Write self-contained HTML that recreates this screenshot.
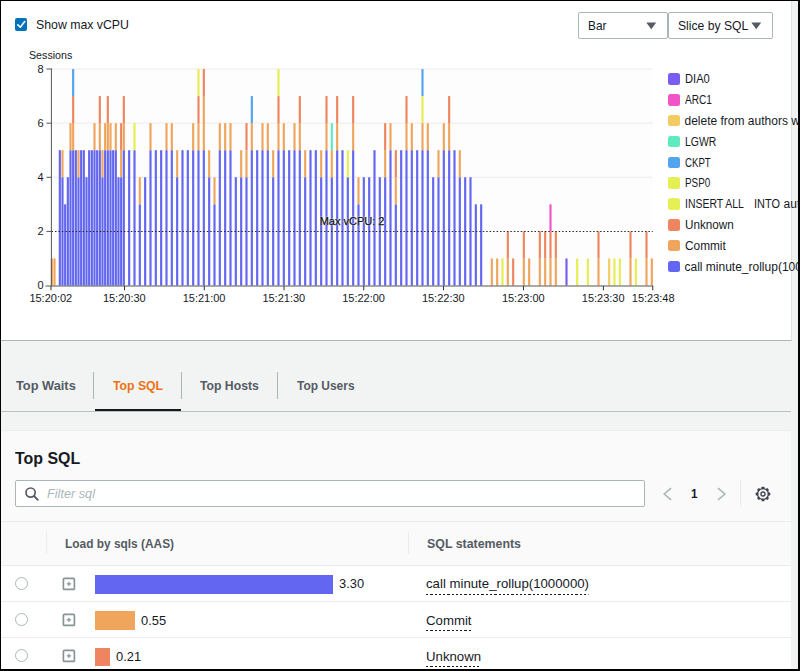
<!DOCTYPE html>
<html><head><meta charset="utf-8"><title>Top SQL</title>
<style>
*{box-sizing:border-box}
html,body{margin:0;padding:0}
body{width:800px;height:671px;overflow:hidden;background:#000;font-family:"Liberation Sans",sans-serif;color:#16191f;position:relative}
#page{position:absolute;left:1px;top:1px;width:797.1px;height:667.5px;background:#f2f3f3;overflow:hidden}
#strip{position:absolute;left:790px;top:0;width:8px;height:668px;background:#f1f2f2}
#top{position:absolute;left:0;top:0;width:790.6px;height:339.6px;background:#fff;border-bottom:1px solid #aab7b8;border-right:1px solid #dfe3e3}
.abs{position:absolute;white-space:nowrap}
.sx{display:inline-block;transform-origin:0 50%;white-space:nowrap}
.xl{position:absolute;top:289.8px;width:60px;text-align:center;font-size:11px;line-height:14px;color:#16191f}
.yl{position:absolute;left:22px;width:20.5px;text-align:right;font-size:11px;line-height:14px}
.sw{position:absolute;left:667px;width:11.6px;height:11.6px;border-radius:2.5px}
.lt{position:absolute;left:683.5px;font-size:12px;line-height:16px;white-space:nowrap;color:#16191f}
.lt span{display:inline-block;transform-origin:0 50%}
.dd{position:absolute;top:11px;height:26.5px;border:1px solid #aab7b8;border-radius:2px;background:#fff}
.tab{position:absolute;top:377px;font-size:13px;font-weight:bold;line-height:16px;color:#545b64;white-space:nowrap}
.tsep{position:absolute;top:370.5px;width:1px;height:27px;background:#aab7b8}
.row{position:absolute;left:0;width:790px;height:36px;background:#fff;border-top:1px solid #eaeded}
.radio{position:absolute;left:14.2px;width:13px;height:13px;border:1.3px solid #aab7b8;border-radius:50%;background:#fff}
.plus{position:absolute;left:61.5px;width:12px;height:12px;border:1.5px solid #879596;border-radius:1px;background:#fff}
.plus:before{content:"";position:absolute;left:2px;top:3.75px;width:5px;height:1.5px;background:#879596}
.plus:after{content:"";position:absolute;left:3.75px;top:2px;width:1.5px;height:5px;background:#879596}
.val{position:absolute;font-size:13px;line-height:16px}
.sql{position:absolute;left:425px;font-size:13px;line-height:16px;white-space:nowrap}
.sql span{display:inline-block;transform-origin:0 50%;padding-bottom:2.6px;background:repeating-linear-gradient(90deg,#16191f 0 2.2px,transparent 2.2px 4.2px) left bottom/100% 1.2px no-repeat}
</style></head><body>
<div id="page">
<div id="strip"></div>
<div id="top">
  <!-- checkbox -->
  <div class="abs" style="left:13.6px;top:17px;width:12.4px;height:12.5px;background:#0073bb;border-radius:2px"></div>
  <svg class="abs" style="left:13.5px;top:17px" width="12.5" height="12.5" viewBox="0 0 12.5 12.5"><path d="M2.8 6.9 L5.3 9.2 L9.7 3.5" fill="none" stroke="#fff" stroke-width="1.6" stroke-linecap="round" stroke-linejoin="round"/></svg>
  <div class="abs" style="left:35.2px;top:15.6px;font-size:13px;line-height:16px"><span class="sx" style="transform:scaleX(0.946)">Show max vCPU</span></div>
  <!-- dropdowns -->
  <div class="dd" style="left:577px;width:90px"></div>
  <div class="dd" style="left:667px;width:104.7px"></div>
  <div class="abs" style="left:587px;top:16.5px;font-size:13px;line-height:16px"><span class="sx" style="transform:scaleX(0.91)">Bar</span></div>
  <div class="abs" style="left:677px;top:16.5px;font-size:13px;line-height:16px"><span class="sx" style="transform:scaleX(0.935)">Slice by SQL</span></div>
  <svg class="abs" style="left:644.5px;top:20.5px" width="11" height="8"><path d="M0.3 0.5 L10.2 0.5 L5.25 7.3 Z" fill="#545b64"/></svg>
  <svg class="abs" style="left:749.5px;top:20.5px" width="11" height="8"><path d="M0.3 0.5 L10.2 0.5 L5.25 7.3 Z" fill="#545b64"/></svg>
  <!-- chart -->
  <div class="abs" style="left:28px;top:47px;font-size:11px;line-height:14px"><span class="sx" style="transform:scaleX(0.97)">Sessions</span></div>
  <div class="yl" style="top:60.8px">8</div>
  <div class="yl" style="top:114.9px">6</div>
  <div class="yl" style="top:169.1px">4</div>
  <div class="yl" style="top:223.2px">2</div>
  <div class="yl" style="top:277.3px">0</div>
  <svg class="abs" style="left:-1px;top:-1px" width="800" height="340" viewBox="0 0 800 340">
    <rect x="51.5" y="69" width="601" height="216.5" fill="#fdfdfd"/>
    <g stroke="#ececec" stroke-width="1">
      <line x1="51.5" y1="69" x2="652.5" y2="69"/>
      <line x1="51.5" y1="123.2" x2="652.5" y2="123.2"/>
      <line x1="51.5" y1="177.3" x2="652.5" y2="177.3"/>
    </g>
    <rect x="50.75" y="258.44" width="2.15" height="27.06" fill="#f0a55c"/>
<rect x="53.42" y="258.44" width="2.15" height="27.06" fill="#f0a55c"/>
<rect x="58.75" y="150.20" width="2.15" height="135.30" fill="#6366f1"/>
<rect x="61.42" y="177.26" width="2.15" height="108.24" fill="#6366f1"/>
<rect x="61.42" y="150.20" width="2.15" height="27.06" fill="#f0a55c"/>
<rect x="64.08" y="204.32" width="2.15" height="81.18" fill="#6366f1"/>
<rect x="66.75" y="177.26" width="2.15" height="108.24" fill="#6366f1"/>
<rect x="69.42" y="150.20" width="2.15" height="135.30" fill="#6366f1"/>
<rect x="69.42" y="123.14" width="2.15" height="27.06" fill="#f0a55c"/>
<rect x="72.08" y="150.20" width="2.15" height="135.30" fill="#6366f1"/>
<rect x="72.08" y="123.14" width="2.15" height="27.06" fill="#f0a55c"/>
<rect x="72.08" y="96.08" width="2.15" height="27.06" fill="#ef8560"/>
<rect x="72.08" y="69.02" width="2.15" height="27.06" fill="#52a4ef"/>
<rect x="74.75" y="150.20" width="2.15" height="135.30" fill="#6366f1"/>
<rect x="77.42" y="177.26" width="2.15" height="108.24" fill="#6366f1"/>
<rect x="77.42" y="150.20" width="2.15" height="27.06" fill="#f0a55c"/>
<rect x="80.08" y="150.20" width="2.15" height="135.30" fill="#6366f1"/>
<rect x="82.75" y="150.20" width="2.15" height="135.30" fill="#6366f1"/>
<rect x="85.42" y="177.26" width="2.15" height="108.24" fill="#6366f1"/>
<rect x="88.08" y="150.20" width="2.15" height="135.30" fill="#6366f1"/>
<rect x="90.75" y="150.20" width="2.15" height="135.30" fill="#6366f1"/>
<rect x="93.42" y="150.20" width="2.15" height="135.30" fill="#6366f1"/>
<rect x="93.42" y="123.14" width="2.15" height="27.06" fill="#f0a55c"/>
<rect x="96.08" y="150.20" width="2.15" height="135.30" fill="#6366f1"/>
<rect x="98.75" y="150.20" width="2.15" height="135.30" fill="#6366f1"/>
<rect x="98.75" y="123.14" width="2.15" height="27.06" fill="#f0a55c"/>
<rect x="98.75" y="96.08" width="2.15" height="27.06" fill="#ef8560"/>
<rect x="101.42" y="177.26" width="2.15" height="108.24" fill="#6366f1"/>
<rect x="101.42" y="150.20" width="2.15" height="27.06" fill="#f0a55c"/>
<rect x="104.08" y="150.20" width="2.15" height="135.30" fill="#6366f1"/>
<rect x="104.08" y="123.14" width="2.15" height="27.06" fill="#f0a55c"/>
<rect x="106.75" y="150.20" width="2.15" height="135.30" fill="#6366f1"/>
<rect x="106.75" y="123.14" width="2.15" height="27.06" fill="#f0a55c"/>
<rect x="106.75" y="96.08" width="2.15" height="27.06" fill="#ef8560"/>
<rect x="109.42" y="150.20" width="2.15" height="135.30" fill="#6366f1"/>
<rect x="109.42" y="123.14" width="2.15" height="27.06" fill="#f0a55c"/>
<rect x="112.08" y="150.20" width="2.15" height="135.30" fill="#6366f1"/>
<rect x="114.75" y="150.20" width="2.15" height="135.30" fill="#6366f1"/>
<rect x="114.75" y="123.14" width="2.15" height="27.06" fill="#f0a55c"/>
<rect x="117.42" y="177.26" width="2.15" height="108.24" fill="#6366f1"/>
<rect x="120.08" y="177.26" width="2.15" height="108.24" fill="#6366f1"/>
<rect x="120.08" y="150.20" width="2.15" height="27.06" fill="#f0a55c"/>
<rect x="120.08" y="123.14" width="2.15" height="27.06" fill="#ef8560"/>
<rect x="122.75" y="150.20" width="2.15" height="135.30" fill="#6366f1"/>
<rect x="122.75" y="123.14" width="2.15" height="27.06" fill="#f0a55c"/>
<rect x="122.75" y="96.08" width="2.15" height="27.06" fill="#ef8560"/>
<rect x="128.08" y="150.20" width="2.15" height="135.30" fill="#6366f1"/>
<rect x="133.42" y="150.20" width="2.15" height="135.30" fill="#6366f1"/>
<rect x="133.42" y="123.14" width="2.15" height="27.06" fill="#e3ef52"/>
<rect x="138.75" y="204.32" width="2.15" height="81.18" fill="#6366f1"/>
<rect x="138.75" y="177.26" width="2.15" height="27.06" fill="#f0a55c"/>
<rect x="144.08" y="177.26" width="2.15" height="108.24" fill="#6366f1"/>
<rect x="149.42" y="150.20" width="2.15" height="135.30" fill="#6366f1"/>
<rect x="149.42" y="123.14" width="2.15" height="27.06" fill="#f0a55c"/>
<rect x="154.75" y="150.20" width="2.15" height="135.30" fill="#6366f1"/>
<rect x="160.08" y="150.20" width="2.15" height="135.30" fill="#6366f1"/>
<rect x="165.42" y="150.20" width="2.15" height="135.30" fill="#6366f1"/>
<rect x="165.42" y="123.14" width="2.15" height="27.06" fill="#f0a55c"/>
<rect x="170.75" y="150.20" width="2.15" height="135.30" fill="#6366f1"/>
<rect x="170.75" y="123.14" width="2.15" height="27.06" fill="#f0a55c"/>
<rect x="176.08" y="177.26" width="2.15" height="108.24" fill="#6366f1"/>
<rect x="176.08" y="150.20" width="2.15" height="27.06" fill="#f0a55c"/>
<rect x="181.42" y="150.20" width="2.15" height="135.30" fill="#6366f1"/>
<rect x="186.75" y="150.20" width="2.15" height="135.30" fill="#6366f1"/>
<rect x="192.09" y="150.20" width="2.15" height="135.30" fill="#6366f1"/>
<rect x="192.09" y="123.14" width="2.15" height="27.06" fill="#f0a55c"/>
<rect x="197.42" y="150.20" width="2.15" height="135.30" fill="#6366f1"/>
<rect x="197.42" y="123.14" width="2.15" height="27.06" fill="#f0a55c"/>
<rect x="197.42" y="96.08" width="2.15" height="27.06" fill="#ef8560"/>
<rect x="197.42" y="69.02" width="2.15" height="27.06" fill="#e3ef52"/>
<rect x="202.75" y="150.20" width="2.15" height="135.30" fill="#6366f1"/>
<rect x="202.75" y="96.08" width="2.15" height="54.12" fill="#f0a55c"/>
<rect x="202.75" y="69.02" width="2.15" height="27.06" fill="#ef8560"/>
<rect x="208.09" y="177.26" width="2.15" height="108.24" fill="#6366f1"/>
<rect x="208.09" y="150.20" width="2.15" height="27.06" fill="#f0a55c"/>
<rect x="213.42" y="204.32" width="2.15" height="81.18" fill="#6366f1"/>
<rect x="213.42" y="177.26" width="2.15" height="27.06" fill="#f0a55c"/>
<rect x="218.75" y="150.20" width="2.15" height="135.30" fill="#6366f1"/>
<rect x="218.75" y="123.14" width="2.15" height="27.06" fill="#f0a55c"/>
<rect x="224.09" y="150.20" width="2.15" height="135.30" fill="#6366f1"/>
<rect x="224.09" y="123.14" width="2.15" height="27.06" fill="#f0a55c"/>
<rect x="229.42" y="150.20" width="2.15" height="135.30" fill="#6366f1"/>
<rect x="229.42" y="123.14" width="2.15" height="27.06" fill="#f0a55c"/>
<rect x="234.75" y="177.26" width="2.15" height="108.24" fill="#6366f1"/>
<rect x="240.09" y="177.26" width="2.15" height="108.24" fill="#6366f1"/>
<rect x="240.09" y="150.20" width="2.15" height="27.06" fill="#f0a55c"/>
<rect x="245.42" y="177.26" width="2.15" height="108.24" fill="#6366f1"/>
<rect x="245.42" y="150.20" width="2.15" height="27.06" fill="#f0a55c"/>
<rect x="245.42" y="123.14" width="2.15" height="27.06" fill="#ef8560"/>
<rect x="250.75" y="150.20" width="2.15" height="135.30" fill="#6366f1"/>
<rect x="250.75" y="123.14" width="2.15" height="27.06" fill="#f0a55c"/>
<rect x="250.75" y="96.08" width="2.15" height="27.06" fill="#52a4ef"/>
<rect x="256.09" y="150.20" width="2.15" height="135.30" fill="#6366f1"/>
<rect x="261.42" y="150.20" width="2.15" height="135.30" fill="#6366f1"/>
<rect x="261.42" y="123.14" width="2.15" height="27.06" fill="#f0a55c"/>
<rect x="266.75" y="150.20" width="2.15" height="135.30" fill="#6366f1"/>
<rect x="266.75" y="123.14" width="2.15" height="27.06" fill="#f0a55c"/>
<rect x="272.09" y="177.26" width="2.15" height="108.24" fill="#6366f1"/>
<rect x="272.09" y="150.20" width="2.15" height="27.06" fill="#f0a55c"/>
<rect x="277.42" y="150.20" width="2.15" height="135.30" fill="#6366f1"/>
<rect x="277.42" y="123.14" width="2.15" height="27.06" fill="#f0a55c"/>
<rect x="277.42" y="96.08" width="2.15" height="27.06" fill="#ef8560"/>
<rect x="277.42" y="69.02" width="2.15" height="27.06" fill="#e3ef52"/>
<rect x="282.75" y="150.20" width="2.15" height="135.30" fill="#6366f1"/>
<rect x="282.75" y="123.14" width="2.15" height="27.06" fill="#f0a55c"/>
<rect x="288.09" y="150.20" width="2.15" height="135.30" fill="#6366f1"/>
<rect x="293.42" y="150.20" width="2.15" height="135.30" fill="#6366f1"/>
<rect x="293.42" y="123.14" width="2.15" height="27.06" fill="#f0a55c"/>
<rect x="298.75" y="150.20" width="2.15" height="135.30" fill="#6366f1"/>
<rect x="298.75" y="123.14" width="2.15" height="27.06" fill="#f0a55c"/>
<rect x="298.75" y="96.08" width="2.15" height="27.06" fill="#ef8560"/>
<rect x="304.09" y="177.26" width="2.15" height="108.24" fill="#6366f1"/>
<rect x="304.09" y="150.20" width="2.15" height="27.06" fill="#f0a55c"/>
<rect x="309.42" y="150.20" width="2.15" height="135.30" fill="#6366f1"/>
<rect x="314.75" y="150.20" width="2.15" height="135.30" fill="#6366f1"/>
<rect x="320.09" y="177.26" width="2.15" height="108.24" fill="#6366f1"/>
<rect x="320.09" y="150.20" width="2.15" height="27.06" fill="#f0a55c"/>
<rect x="325.42" y="150.20" width="2.15" height="135.30" fill="#6366f1"/>
<rect x="325.42" y="123.14" width="2.15" height="27.06" fill="#f0a55c"/>
<rect x="325.42" y="96.08" width="2.15" height="27.06" fill="#ef8560"/>
<rect x="330.75" y="177.26" width="2.15" height="108.24" fill="#6366f1"/>
<rect x="330.75" y="150.20" width="2.15" height="27.06" fill="#f0a55c"/>
<rect x="330.75" y="123.14" width="2.15" height="27.06" fill="#5eebbf"/>
<rect x="336.09" y="150.20" width="2.15" height="135.30" fill="#6366f1"/>
<rect x="336.09" y="123.14" width="2.15" height="27.06" fill="#f0a55c"/>
<rect x="336.09" y="96.08" width="2.15" height="27.06" fill="#ef8560"/>
<rect x="341.42" y="150.20" width="2.15" height="135.30" fill="#6366f1"/>
<rect x="346.75" y="177.26" width="2.15" height="108.24" fill="#6366f1"/>
<rect x="346.75" y="150.20" width="2.15" height="27.06" fill="#e3ef52"/>
<rect x="352.09" y="150.20" width="2.15" height="135.30" fill="#6366f1"/>
<rect x="352.09" y="123.14" width="2.15" height="27.06" fill="#f0a55c"/>
<rect x="352.09" y="96.08" width="2.15" height="27.06" fill="#ef8560"/>
<rect x="357.42" y="204.32" width="2.15" height="81.18" fill="#6366f1"/>
<rect x="357.42" y="177.26" width="2.15" height="27.06" fill="#f0a55c"/>
<rect x="362.75" y="177.26" width="2.15" height="108.24" fill="#6366f1"/>
<rect x="368.09" y="177.26" width="2.15" height="108.24" fill="#6366f1"/>
<rect x="373.42" y="150.20" width="2.15" height="135.30" fill="#6366f1"/>
<rect x="378.75" y="177.26" width="2.15" height="108.24" fill="#6366f1"/>
<rect x="384.09" y="177.26" width="2.15" height="108.24" fill="#6366f1"/>
<rect x="384.09" y="150.20" width="2.15" height="27.06" fill="#f0a55c"/>
<rect x="384.09" y="123.14" width="2.15" height="27.06" fill="#ef8560"/>
<rect x="389.42" y="150.20" width="2.15" height="135.30" fill="#6366f1"/>
<rect x="389.42" y="123.14" width="2.15" height="27.06" fill="#f0a55c"/>
<rect x="394.75" y="204.32" width="2.15" height="81.18" fill="#6366f1"/>
<rect x="394.75" y="177.26" width="2.15" height="27.06" fill="#f0a55c"/>
<rect x="394.75" y="150.20" width="2.15" height="27.06" fill="#ef8560"/>
<rect x="400.09" y="150.20" width="2.15" height="135.30" fill="#6366f1"/>
<rect x="405.42" y="150.20" width="2.15" height="135.30" fill="#6366f1"/>
<rect x="405.42" y="123.14" width="2.15" height="27.06" fill="#f0a55c"/>
<rect x="405.42" y="96.08" width="2.15" height="27.06" fill="#ef8560"/>
<rect x="410.75" y="150.20" width="2.15" height="135.30" fill="#6366f1"/>
<rect x="410.75" y="123.14" width="2.15" height="27.06" fill="#f0a55c"/>
<rect x="416.09" y="150.20" width="2.15" height="135.30" fill="#6366f1"/>
<rect x="421.42" y="150.20" width="2.15" height="135.30" fill="#6366f1"/>
<rect x="421.42" y="123.14" width="2.15" height="27.06" fill="#f0a55c"/>
<rect x="421.42" y="96.08" width="2.15" height="27.06" fill="#e3ef52"/>
<rect x="421.42" y="69.02" width="2.15" height="27.06" fill="#52a4ef"/>
<rect x="426.75" y="150.20" width="2.15" height="135.30" fill="#6366f1"/>
<rect x="426.75" y="123.14" width="2.15" height="27.06" fill="#f0a55c"/>
<rect x="432.09" y="177.26" width="2.15" height="108.24" fill="#6366f1"/>
<rect x="437.42" y="177.26" width="2.15" height="108.24" fill="#6366f1"/>
<rect x="437.42" y="150.20" width="2.15" height="27.06" fill="#f0a55c"/>
<rect x="442.75" y="150.20" width="2.15" height="135.30" fill="#6366f1"/>
<rect x="442.75" y="123.14" width="2.15" height="27.06" fill="#f0a55c"/>
<rect x="448.09" y="150.20" width="2.15" height="135.30" fill="#6366f1"/>
<rect x="448.09" y="123.14" width="2.15" height="27.06" fill="#f0a55c"/>
<rect x="448.09" y="96.08" width="2.15" height="27.06" fill="#ef8560"/>
<rect x="453.42" y="150.20" width="2.15" height="135.30" fill="#6366f1"/>
<rect x="458.75" y="177.26" width="2.15" height="108.24" fill="#6366f1"/>
<rect x="458.75" y="150.20" width="2.15" height="27.06" fill="#f0a55c"/>
<rect x="464.09" y="177.26" width="2.15" height="108.24" fill="#6366f1"/>
<rect x="469.42" y="177.26" width="2.15" height="108.24" fill="#6366f1"/>
<rect x="474.76" y="204.32" width="2.15" height="81.18" fill="#6366f1"/>
<rect x="480.09" y="204.32" width="2.15" height="81.18" fill="#6366f1"/>
<rect x="490.76" y="258.44" width="2.15" height="27.06" fill="#f0a55c"/>
<rect x="496.09" y="258.44" width="2.15" height="27.06" fill="#f0a55c"/>
<rect x="501.42" y="258.44" width="2.15" height="27.06" fill="#e3ef52"/>
<rect x="506.76" y="258.44" width="2.15" height="27.06" fill="#f0a55c"/>
<rect x="506.76" y="231.38" width="2.15" height="27.06" fill="#ef8560"/>
<rect x="512.09" y="258.44" width="2.15" height="27.06" fill="#ef8560"/>
<rect x="522.76" y="258.44" width="2.15" height="27.06" fill="#f0a55c"/>
<rect x="522.76" y="231.38" width="2.15" height="27.06" fill="#ef8560"/>
<rect x="528.09" y="258.44" width="2.15" height="27.06" fill="#f0a55c"/>
<rect x="538.76" y="258.44" width="2.15" height="27.06" fill="#f0a55c"/>
<rect x="538.76" y="231.38" width="2.15" height="27.06" fill="#ef8560"/>
<rect x="544.09" y="258.44" width="2.15" height="27.06" fill="#f0a55c"/>
<rect x="544.09" y="231.38" width="2.15" height="27.06" fill="#ef8560"/>
<rect x="549.42" y="258.44" width="2.15" height="27.06" fill="#f0a55c"/>
<rect x="549.42" y="231.38" width="2.15" height="27.06" fill="#ef8560"/>
<rect x="549.42" y="204.32" width="2.15" height="27.06" fill="#f055c8"/>
<rect x="554.76" y="258.44" width="2.15" height="27.06" fill="#f0a55c"/>
<rect x="554.76" y="231.38" width="2.15" height="27.06" fill="#ef8560"/>
<rect x="565.42" y="258.44" width="2.15" height="27.06" fill="#7b5cf0"/>
<rect x="576.09" y="258.44" width="2.15" height="27.06" fill="#e3ef52"/>
<rect x="586.76" y="258.44" width="2.15" height="27.06" fill="#e3ef52"/>
<rect x="597.42" y="258.44" width="2.15" height="27.06" fill="#f0a55c"/>
<rect x="597.42" y="231.38" width="2.15" height="27.06" fill="#ef8560"/>
<rect x="608.09" y="258.44" width="2.15" height="27.06" fill="#f3cb60"/>
<rect x="613.42" y="258.44" width="2.15" height="27.06" fill="#e3ef52"/>
<rect x="618.76" y="258.44" width="2.15" height="27.06" fill="#e3ef52"/>
<rect x="629.42" y="258.44" width="2.15" height="27.06" fill="#f0a55c"/>
<rect x="629.42" y="231.38" width="2.15" height="27.06" fill="#ef8560"/>
<rect x="634.76" y="258.44" width="2.15" height="27.06" fill="#e3ef52"/>
<rect x="645.42" y="258.44" width="2.15" height="27.06" fill="#f0a55c"/>
<rect x="645.42" y="231.38" width="2.15" height="27.06" fill="#ef8560"/>
<rect x="650.76" y="258.44" width="2.15" height="27.06" fill="#f0a55c"/>
    <line x1="51.5" y1="231.5" x2="652.75" y2="231.5" stroke="#2a2a2a" stroke-width="1.1" stroke-dasharray="1.5 1.95"/>
    <g stroke="#555" stroke-width="1">
      <line x1="51.4" y1="68.5" x2="51.4" y2="286"/>
      <line x1="46.5" y1="69" x2="51.5" y2="69"/>
      <line x1="46.5" y1="123.2" x2="51.5" y2="123.2"/>
      <line x1="46.5" y1="177.3" x2="51.5" y2="177.3"/>
      <line x1="46.5" y1="231.4" x2="51.5" y2="231.4"/>
      <line x1="45.5" y1="286" x2="653.25" y2="286"/>
    </g>
    <line x1="51.00" y1="286" x2="51.00" y2="290.3" stroke="#333" stroke-width="1"/><line x1="124.50" y1="286" x2="124.50" y2="290.3" stroke="#333" stroke-width="1"/><line x1="204.25" y1="286" x2="204.25" y2="290.3" stroke="#333" stroke-width="1"/><line x1="284.00" y1="286" x2="284.00" y2="290.3" stroke="#333" stroke-width="1"/><line x1="363.75" y1="286" x2="363.75" y2="290.3" stroke="#333" stroke-width="1"/><line x1="443.50" y1="286" x2="443.50" y2="290.3" stroke="#333" stroke-width="1"/><line x1="523.50" y1="286" x2="523.50" y2="290.3" stroke="#333" stroke-width="1"/><line x1="603.40" y1="286" x2="603.40" y2="290.3" stroke="#333" stroke-width="1"/><line x1="652.75" y1="286" x2="652.75" y2="290.3" stroke="#333" stroke-width="1"/>
  </svg>
  <div class="abs" style="left:318.7px;top:213.2px;font-size:11px;line-height:14px;color:#111;text-shadow:0 0 1.5px #fff,0 0 1.5px #fff;-webkit-text-stroke:0.25px #111">Max vCPU: 2</div>
  <div class="xl" style="left:19.8px">15:20:02</div><div class="xl" style="left:93.3px">15:20:30</div><div class="xl" style="left:173.1px">15:21:00</div><div class="xl" style="left:252.8px">15:21:30</div><div class="xl" style="left:332.6px">15:22:00</div><div class="xl" style="left:412.3px">15:22:30</div><div class="xl" style="left:492.3px">15:23:00</div><div class="xl" style="left:572.2px">15:23:30</div><div class="xl" style="left:622.2px">15:23:48</div>
  <div class="sw" style="top:72.1px;background:#7b5cf0"></div><div class="lt" style="top:70.2px"><span style="transform:scaleX(0.930)">DIA0</span></div><div class="sw" style="top:93.0px;background:#f055c8"></div><div class="lt" style="top:91.1px"><span style="transform:scaleX(0.843)">ARC1</span></div><div class="sw" style="top:113.8px;background:#f3cb60"></div><div class="lt" style="top:111.9px"><span style="transform:scaleX(1.000)">delete from authors where id = 1</span></div><div class="sw" style="top:134.7px;background:#5eebbf"></div><div class="lt" style="top:132.8px"><span style="transform:scaleX(0.867)">LGWR</span></div><div class="sw" style="top:155.5px;background:#52a4ef"></div><div class="lt" style="top:153.6px"><span style="transform:scaleX(0.803)">CKPT</span></div><div class="sw" style="top:176.3px;background:#e3ef52"></div><div class="lt" style="top:174.4px"><span style="transform:scaleX(0.822)">PSP0</span></div><div class="sw" style="top:197.2px;background:#e6f055"></div><div class="lt" style="top:195.3px"><span style="transform:scaleX(0.872)">INSERT ALL</span><span style="position:absolute;left:69.3px;top:0;transform:scaleX(0.91)">INTO</span><span style="position:absolute;left:99.1px;top:0;">authors</span></div><div class="sw" style="top:218.1px;background:#ef8560"></div><div class="lt" style="top:216.2px"><span style="transform:scaleX(0.975)">Unknown</span></div><div class="sw" style="top:238.9px;background:#f0a55c"></div><div class="lt" style="top:237.0px"><span style="transform:scaleX(0.987)">Commit</span></div><div class="sw" style="top:259.8px;background:#6366f1"></div><div class="lt" style="top:257.9px"><span style="transform:scaleX(1.000)">call minute_rollup(1000000)</span></div>
</div>

<!-- tabs -->
<div class="tab" style="left:15.2px"><span class="sx" style="transform:scaleX(0.985)">Top Waits</span></div>
<div class="tab" style="left:111.7px;color:#ec7211"><span class="sx" style="transform:scaleX(0.94)">Top SQL</span></div>
<div class="tab" style="left:199.2px"><span class="sx" style="transform:scaleX(0.939)">Top Hosts</span></div>
<div class="tab" style="left:296.2px"><span class="sx" style="transform:scaleX(0.919)">Top Users</span></div>
<div class="tsep" style="left:92.2px"></div>
<div class="tsep" style="left:179.7px"></div>
<div class="tsep" style="left:276.2px"></div>
<div class="abs" style="left:0;top:410.4px;width:790px;height:1px;background:#b8c2c3"></div>
<div class="abs" style="left:94px;top:407.5px;width:85.5px;height:2.5px;background:#16191f"></div>

<!-- Top SQL panel -->
<div class="abs" style="left:0;top:429px;width:790px;height:240px;background:#fafafa;border-top:1px solid #eceeee"></div>
<div class="abs" style="left:14.4px;top:446.8px;font-size:16.5px;font-weight:bold;line-height:20px"><span class="sx" style="transform:scaleX(0.965)">Top SQL</span></div>
<div class="abs" style="left:14.2px;top:479px;width:629.8px;height:27px;border:1px solid #aab7b8;border-radius:2px;background:#fff"></div>
<svg class="abs" style="left:23px;top:485px" width="16" height="16" viewBox="0 0 16 16"><circle cx="6.6" cy="6.6" r="4.6" fill="none" stroke="#545b64" stroke-width="1.7"/><line x1="10" y1="10" x2="13.8" y2="13.8" stroke="#545b64" stroke-width="1.8" stroke-linecap="round"/></svg>
<div class="abs" style="left:46px;top:484.8px;font-size:13px;font-style:italic;line-height:16px;color:#aab7b8"><span class="sx" style="transform:scaleX(0.977)">Filter sql</span></div>
<!-- pagination -->
<svg class="abs" style="left:660px;top:485px" width="14" height="16" viewBox="0 0 14 16"><path d="M10.1 2.2 L3.2 8 L10.1 13.8" fill="none" stroke="#aab7b8" stroke-width="1.6"/></svg>
<div class="abs" style="left:689.5px;top:484.8px;font-size:13px;font-weight:bold;line-height:16px"><span class="sx" style="transform:scaleX(0.9)">1</span></div>
<svg class="abs" style="left:714px;top:485px" width="14" height="16" viewBox="0 0 14 16"><path d="M3.0 2.2 L9.9 8 L3.0 13.8" fill="none" stroke="#aab7b8" stroke-width="1.6"/></svg>
<div class="abs" style="left:738.5px;top:479px;width:1px;height:27px;background:#eaeded"></div>
<svg class="abs" style="left:754.2px;top:484.5px" width="16" height="16" viewBox="-8 -8 16 16"><g fill="#414750"><rect x="-1.45" y="-7.3" width="2.9" height="2.6" rx="0.6" transform="rotate(0)"/><rect x="-1.45" y="-7.3" width="2.9" height="2.6" rx="0.6" transform="rotate(45)"/><rect x="-1.45" y="-7.3" width="2.9" height="2.6" rx="0.6" transform="rotate(90)"/><rect x="-1.45" y="-7.3" width="2.9" height="2.6" rx="0.6" transform="rotate(135)"/><rect x="-1.45" y="-7.3" width="2.9" height="2.6" rx="0.6" transform="rotate(180)"/><rect x="-1.45" y="-7.3" width="2.9" height="2.6" rx="0.6" transform="rotate(225)"/><rect x="-1.45" y="-7.3" width="2.9" height="2.6" rx="0.6" transform="rotate(270)"/><rect x="-1.45" y="-7.3" width="2.9" height="2.6" rx="0.6" transform="rotate(315)"/></g><circle r="5.45" fill="none" stroke="#414750" stroke-width="1.35"/><circle r="2.0" fill="none" stroke="#414750" stroke-width="1.4"/></svg>
<!-- table header -->
<div class="abs" style="left:0;top:520px;width:790px;height:1px;background:#eaeded"></div>
<div class="abs" style="left:45px;top:531px;width:1px;height:22px;background:#eaeded"></div>
<div class="abs" style="left:407px;top:531px;width:1px;height:22px;background:#eaeded"></div>
<div class="abs" style="left:64px;top:535.3px;font-size:13px;font-weight:bold;line-height:16px;color:#545b64"><span class="sx" style="transform:scaleX(0.915)">Load by sqls (AAS)</span></div>
<div class="abs" style="left:425.5px;top:535.3px;font-size:13px;font-weight:bold;line-height:16px;color:#545b64"><span class="sx" style="transform:scaleX(0.952)">SQL statements</span></div>
<!-- rows -->
<div class="row" style="top:564px"></div>
<div class="row" style="top:600px"></div>
<div class="row" style="top:636px"></div>
<div class="radio" style="top:575.5px"></div>
<div class="radio" style="top:612px"></div>
<div class="radio" style="top:648px"></div>
<svg class="abs" style="left:61px;top:575.6px" width="14" height="14" viewBox="0 0 14 14"><rect x="1.4" y="1.4" width="11" height="11" rx="1" fill="#fff" stroke="#879596" stroke-width="1.7"/><path d="M4.7 6.9 H9.1 M6.9 4.7 V9.1" stroke="#879596" stroke-width="1.2" fill="none"/></svg>
<svg class="abs" style="left:61px;top:612.1px" width="14" height="14" viewBox="0 0 14 14"><rect x="1.4" y="1.4" width="11" height="11" rx="1" fill="#fff" stroke="#879596" stroke-width="1.7"/><path d="M4.7 6.9 H9.1 M6.9 4.7 V9.1" stroke="#879596" stroke-width="1.2" fill="none"/></svg>
<svg class="abs" style="left:61px;top:648.1px" width="14" height="14" viewBox="0 0 14 14"><rect x="1.4" y="1.4" width="11" height="11" rx="1" fill="#fff" stroke="#879596" stroke-width="1.7"/><path d="M4.7 6.9 H9.1 M6.9 4.7 V9.1" stroke="#879596" stroke-width="1.2" fill="none"/></svg>
<div class="abs" style="left:94px;top:573.6px;width:237.5px;height:19.2px;background:#6366f1"></div>
<div class="abs" style="left:94px;top:610.3px;width:40px;height:18.8px;background:#f0a55c"></div>
<div class="abs" style="left:94px;top:646.5px;width:15px;height:18.8px;background:#ef8560"></div>
<div class="val" style="left:337.5px;top:575.3px"><span class="sx" style="transform:scaleX(0.99)">3.30</span></div>
<div class="val" style="left:140px;top:611.8px"><span class="sx" style="transform:scaleX(0.99)">0.55</span></div>
<div class="val" style="left:115px;top:647.8px"><span class="sx" style="transform:scaleX(0.99)">0.21</span></div>
<div class="sql" style="top:575.3px"><span style="transform:scaleX(1.016)">call minute_rollup(1000000)</span></div>
<div class="sql" style="top:611.8px"><span style="transform:scaleX(1.016)">Commit</span></div>
<div class="sql" style="top:647.8px"><span style="transform:scaleX(1.016)">Unknown</span></div>
</div>
</body></html>
